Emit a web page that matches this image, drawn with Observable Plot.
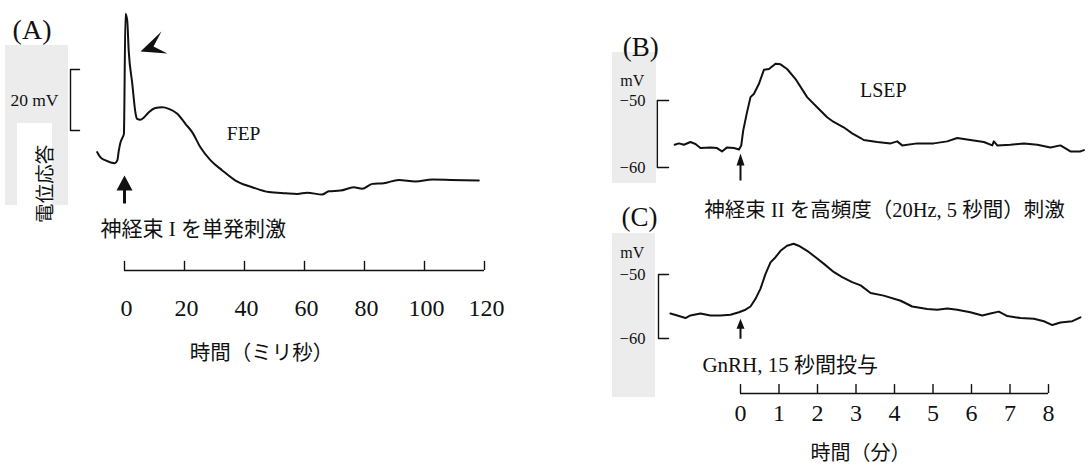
<!DOCTYPE html>
<html><head><meta charset="utf-8">
<script src="https://cdn.jsdelivr.net/npm/d3@7"></script>
<script src="https://cdn.jsdelivr.net/npm/@observablehq/plot@0.6"></script>
<style>
html,body{margin:0;padding:0;background:#fff;}
#fig{position:relative;width:1088px;height:468px;overflow:hidden;background:#fff;}
.gray{position:absolute;background:#ececec;}
.white{position:absolute;background:#fff;}
</style></head><body><div id="fig">
<div class="gray" style="left:5px;top:45px;width:63px;height:160px"></div>
<div class="white" style="left:17px;top:123px;width:35px;height:85px"></div>
<div class="gray" style="left:612px;top:52px;width:44px;height:131px"></div>
<div class="gray" style="left:612px;top:233px;width:43px;height:164px"></div>
</div>
<script>
// ---------- DATA ----------
// (A) FEP: time in ms, relative potential in mV
const timeA = [-9.1,-8.0,-6.3,-3.2,-2.4,-1.9,-1.3,-0.6,-0.2,0.33,0.9,1.4,2.6,3.7,4.2,5.3,6.4,8.1,10.3,12.6,14.8,17.6,20.3,22.6,25.3,28.7,32.6,37.0,42.6,48.1,53.7,57.6,60.9,65.9,68.1,72.0,76.4,79.2,82.6,86.4,91.4,97.0,102.6,108.7,118.1];
const voltA = [12.9,11.2,10.2,9.3,10.2,13.4,16.2,17.8,18.9,58.3,56.1,46.2,35.3,25.5,23.8,23.5,24.2,26.0,27.4,27.6,27.1,25.5,22.2,19.4,14.5,10.2,6.9,3.6,1.4,-0.2,-0.6,-0.8,-0.4,-1.0,0.1,0.3,1.4,0.9,2.5,2.7,3.8,3.3,3.9,3.8,3.6];
const ticksA = [0,20,40,60,80,100,120];
const tickLabelsA = ["0","20","40","60","80","100","120"];

// (B) LSEP: time in min, membrane potential in mV
const timeB = [-1.71,-1.60,-1.47,-1.30,-1.17,-1.04,-0.78,-0.61,-0.48,-0.35,-0.17,-0.04,0.02,0.07,0.16,0.26,0.35,0.48,0.61,0.74,0.91,1.04,1.21,1.43,1.73,1.99,2.25,2.42,2.68,2.90,3.12,3.20,3.55,3.90,4.07,4.20,4.59,5.02,5.37,5.63,5.97,6.32,6.54,6.58,6.67,7.01,7.36,7.71,8.05,8.31,8.57,8.83,8.92];
const voltB = [-56.6,-56.4,-56.6,-56.2,-56.5,-57.1,-57.0,-57.1,-57.6,-57.0,-57.1,-57.3,-56.7,-54.5,-52.0,-49.5,-49.0,-47.5,-45.4,-45.3,-44.5,-44.6,-45.3,-46.8,-49.5,-51.0,-52.5,-53.2,-54.0,-54.9,-55.6,-55.9,-56.2,-56.4,-56.1,-56.7,-56.4,-56.4,-56.1,-55.6,-55.9,-56.2,-56.7,-56.1,-56.7,-56.6,-56.4,-56.6,-57.0,-56.7,-57.6,-57.6,-57.4];

// (C) GnRH response: time in min, membrane potential in mV
const timeC = [-1.82,-1.64,-1.43,-1.30,-1.04,-0.78,-0.52,-0.26,-0.04,0.13,0.26,0.39,0.52,0.65,0.78,0.91,1.04,1.21,1.38,1.51,1.73,1.95,2.16,2.42,2.64,2.90,3.12,3.38,3.72,4.16,4.46,4.85,5.11,5.37,5.63,5.97,6.28,6.49,6.71,6.93,7.27,7.62,7.88,8.10,8.31,8.62,8.83];
const voltC = [-56.1,-56.4,-56.8,-56.4,-56.1,-56.4,-56.4,-56.3,-55.9,-55.5,-55.0,-53.8,-52.2,-49.9,-48.1,-47.3,-46.3,-45.5,-45.2,-45.5,-46.3,-47.3,-48.3,-49.6,-50.4,-51.2,-51.7,-52.9,-53.3,-54.1,-55.0,-55.4,-55.5,-55.3,-55.5,-55.9,-56.4,-56.1,-55.8,-56.5,-56.8,-56.9,-57.3,-57.9,-57.5,-57.3,-56.7];
const ticksBC = [0,1,2,3,4,5,6,7,8];
const tickLabelsBC = ["0","1","2","3","4","5","6","7","8"];

const scaleBarA = [20, 40];          // 20 mV bar
const scaleBarBC = [-60, -50];       // mV
const stimulusTime = 0;

// ---------- RENDER ----------
const SERIF = "'Liberation Serif','Times New Roman','Noto Sans CJK JP',serif";
const INK = "#111";
const fig = document.getElementById("fig");

function poly(pts){
  return {draw(ctx){ctx.moveTo(pts[0][0],pts[0][1]);for(const p of pts.slice(1))ctx.lineTo(p[0],p[1]);ctx.closePath();}};
}
function upArrow(hw,hh,len,sw){
  return poly([[0,0],[hw/2,hh],[sw/2,hh],[sw/2,len],[-sw/2,len],[-sw/2,hh],[-hw/2,hh]]);
}
function place(svg,left,top){
  svg.style.position="absolute";svg.style.left=left+"px";svg.style.top=top+"px";
  svg.style.overflow="visible";fig.appendChild(svg);
}
function txt(text,x,y,opts){
  return Plot.text([text],{x:()=>x,y:()=>y,text:d=>d,fill:INK,fontFamily:SERIF,...opts});
}
function bracket(xa,xb,lo,hi){
  return Plot.line([[xb,hi],[xa,hi],[xa,lo],[xb,lo]],{x:d=>d[0],y:d=>d[1],stroke:INK,strokeWidth:1.4});
}

// Panel A
const dataA = timeA.map((t,i)=>({t,v:voltA[i]}));
const axisA = -25.9;
const plotA = Plot.plot({
  width:500,height:380,margin:0,
  x:{domain:[0,120],range:[124,484],axis:null},
  y:{domain:[-60,60],range:[374,8],axis:null},
  style:{fontFamily:SERIF,background:"transparent"},
  marks:[
    Plot.line(dataA,{x:"t",y:"v",stroke:INK,strokeWidth:2,curve:"monotone-x"}),
    bracket(-18,-15,scaleBarA[0],scaleBarA[1]),
    txt("20 mV",-22,(scaleBarA[0]+scaleBarA[1])/2,{textAnchor:"end",fontSize:17.5}),
    txt("電位応答",-26.3,2.5,{rotate:-90,fontSize:19.5}),
    txt("(A)",-37.3,53.1,{textAnchor:"start",fontSize:28}),
    txt("FEP",39.7,19,{fontSize:19.5}),
    Plot.dot([stimulusTime],{x:d=>d,y:()=>5.25,symbol:upArrow(16,15,28,3),fill:INK,stroke:"none"}),
    Plot.dot([0],{x:()=>5.33,y:()=>45.9,symbol:poly([[0,0],[21,-20],[13,-5],[27,2]]),fill:INK,stroke:"none"}),
    txt("神経束 I を単発刺激",-8,-12.5,{textAnchor:"start",fontSize:21}),
    Plot.ruleY([axisA],{x1:ticksA[0],x2:ticksA[ticksA.length-1],stroke:INK,strokeWidth:1.4}),
    Plot.ruleX(ticksA,{x:d=>d,y1:axisA,y2:axisA+3,stroke:INK,strokeWidth:1.4}),
    Plot.text(ticksA,{x:d=>d,y:()=>-38.4,dx:2,text:(d,i)=>tickLabelsA[i],fontSize:24,fill:INK,fontFamily:SERIF}),
    txt("時間（ミリ秒）",45.7,-53.1,{fontSize:20.5})
  ]
});
place(plotA,0,0);

// Panel B
const dataB = timeB.map((t,i)=>({t,v:voltB[i]}));
const plotB = Plot.plot({
  width:488,height:230,margin:0,
  x:{domain:[0,8],range:[140,448],axis:null},
  y:{domain:[-70,-40],range:[234,33],axis:null},
  style:{fontFamily:SERIF,background:"transparent"},
  marks:[
    Plot.line(dataB,{x:"t",y:"v",stroke:INK,strokeWidth:2}),
    bracket(-2.16,-1.87,scaleBarBC[0],scaleBarBC[1]),
    txt("mV",-2.5,-47.0,{textAnchor:"end",fontSize:16}),
    txt("−50",-2.47,-50,{textAnchor:"end",fontSize:16.5}),
    txt("−60",-2.47,-60,{textAnchor:"end",fontSize:16.5}),
    txt("(B)",-3.06,-42.1,{textAnchor:"start",fontSize:27}),
    txt("LSEP",3.71,-48.5,{fontSize:20}),
    Plot.dot([stimulusTime],{x:d=>d,y:()=>-57.9,symbol:upArrow(8,12,27,2),fill:INK,stroke:"none"}),
    txt("神経束 II を高頻度（20Hz, 5 秒間）刺激",3.74,-66.4,{fontSize:20.5})
  ]
});
place(plotB,600,0);

// Panel C
const dataC = timeC.map((t,i)=>({t,v:voltC[i]}));
const axisC = -68.6;
const plotC = Plot.plot({
  width:488,height:273,margin:0,
  x:{domain:[0,8],range:[140,448],axis:null},
  y:{domain:[-80,-40],range:[271,15],axis:null},
  style:{fontFamily:SERIF,background:"transparent"},
  marks:[
    Plot.line(dataC,{x:"t",y:"v",stroke:INK,strokeWidth:2}),
    bracket(-2.13,-1.87,scaleBarBC[0],scaleBarBC[1]),
    txt("mV",-2.5,-46.6,{textAnchor:"end",fontSize:16}),
    txt("−50",-2.47,-50,{textAnchor:"end",fontSize:16.5}),
    txt("−60",-2.47,-60,{textAnchor:"end",fontSize:16.5}),
    txt("(C)",-3.09,-41.1,{textAnchor:"start",fontSize:27}),
    Plot.dot([stimulusTime],{x:d=>d,y:()=>-56.9,symbol:upArrow(8,10,20,2),fill:INK,stroke:"none"}),
    txt("GnRH, 15 秒間投与",-0.99,-64.2,{textAnchor:"start",fontSize:21}),
    Plot.ruleY([axisC],{x1:ticksBC[0],x2:ticksBC[ticksBC.length-1],stroke:INK,strokeWidth:1.4}),
    Plot.ruleX(ticksBC,{x:d=>d,y1:axisC,y2:axisC+1.4,stroke:INK,strokeWidth:1.4}),
    Plot.text(ticksBC,{x:d=>d,y:()=>-71.7,text:(d,i)=>tickLabelsBC[i],fontSize:24,fill:INK,fontFamily:SERIF}),
    txt("時間（分）",3.12,-78,{fontSize:20})
  ]
});
place(plotC,600,195);
</script></body></html>
